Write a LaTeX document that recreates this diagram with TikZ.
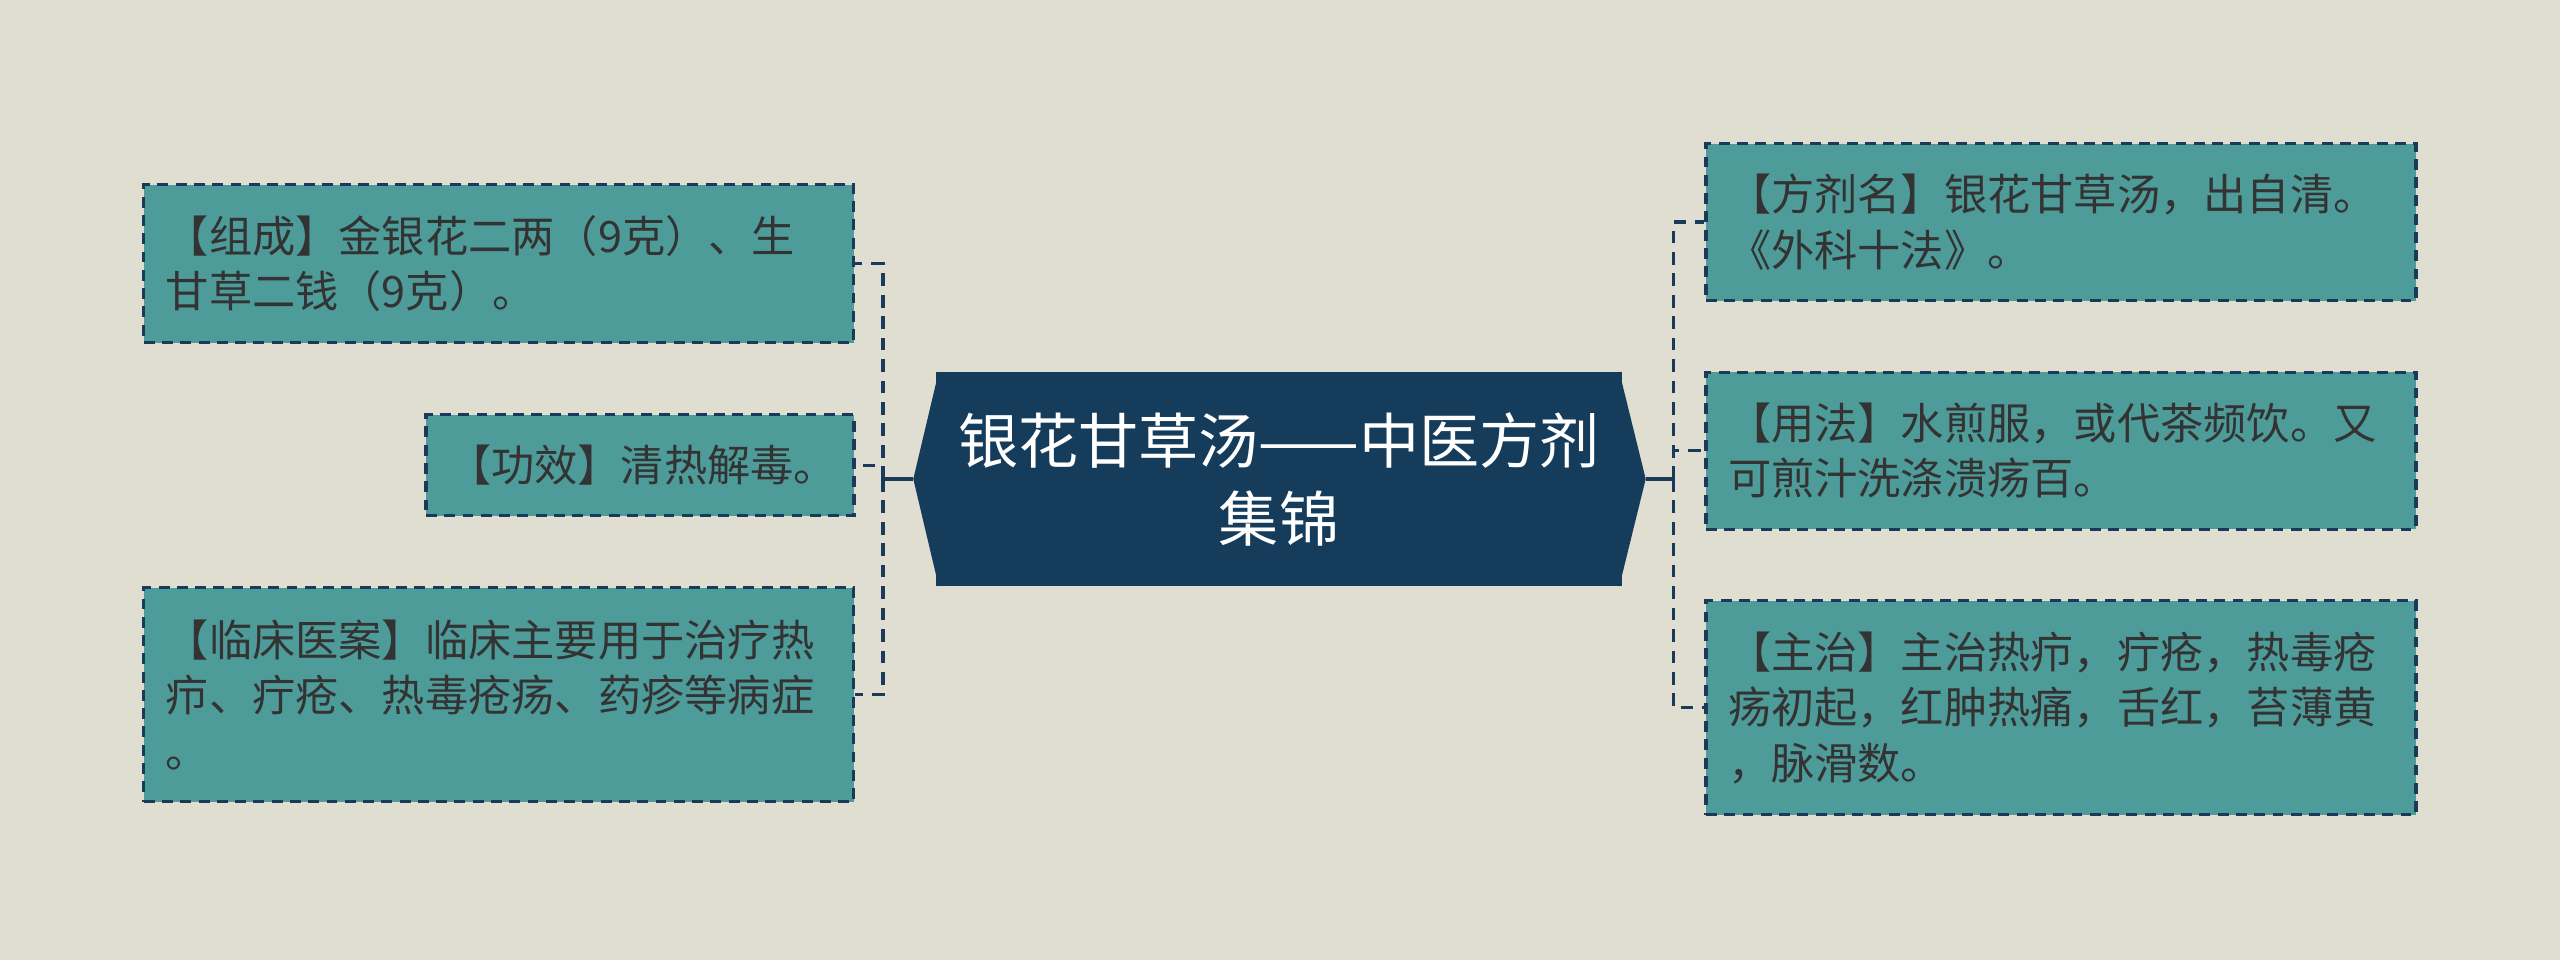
\documentclass[tikz,border=0pt]{standalone}
\usepackage{fontspec}
\newfontfamily\cjk{Noto Sans CJK SC}
\usetikzlibrary{calc}
\definecolor{bgpaper}{HTML}{DFDED0}
\definecolor{leafteal}{HTML}{4E9C9A}
\definecolor{rootnavy}{HTML}{163C5B}
\definecolor{linknavy}{HTML}{1B3A5A}
\definecolor{leaftext}{HTML}{333333}
\tikzset{
leafbox/.style  = {shape=rectangle, draw=linknavy, fill=leafteal,
                   line width=0.9pt, dash pattern=on 3.1pt off 2.1pt,
                   anchor=center, align=left,
                   inner xsep=0.22cm, inner ysep=0pt,
                   text=leaftext, font=\cjk\fontsize{12.3pt}{15.8pt}\selectfont},
wideleaf/.style = {leafbox, text width=6.66cm},
root/.style     = {shape=rectangle, fill=rootnavy,
                   minimum width=6.86cm, minimum height=2.14cm,
                   text width=6.86cm, align=center, inner sep=0pt,
                   text=white, font=\cjk\fontsize{17.1pt}{22.2pt}\selectfont},
branch/.style   = {draw=linknavy, line width=0.9pt, dash pattern=on 3.6pt off 2.5pt},
trunk/.style    = {draw=linknavy, line width=0.9pt}
}

\begin{document}
\begin{tikzpicture}
\fill[bgpaper] (0,0) rectangle (25.6,-9.6);

\node[root] (title) at (12.79,-4.79) {银花甘草汤——中医方剂\\集锦};
\coordinate (ltip) at ([xshift=-0.22cm]title.west);
\coordinate (rtip) at ([xshift=0.23cm]title.east);
\fill[rootnavy] ([xshift=1pt]title.north west) -- (ltip) -- ([xshift=1pt]title.south west) -- cycle;
\fill[rootnavy] ([xshift=-1pt]title.north east) -- (rtip) -- ([xshift=-1pt]title.south east) -- cycle;

\node[wideleaf, minimum height=1.58cm] (zucheng) at (4.988,-2.637)
    {【组成】金银花二两（9克）、生\\甘草二钱（9克）。};
\node[leafbox, text width=3.84cm, minimum height=1.01cm] (gongxiao) at (6.40,-4.653)
    {【功效】清热解毒。};
\node[wideleaf, minimum height=2.14cm] (linchuang) at (4.988,-6.947)
    {【临床医案】临床主要用于治疗热\\疖、疔疮、热毒疮疡、药疹等病症\\。};
\node[wideleaf, minimum height=1.57cm] (fangji) at (20.61,-2.22)
    {【方剂名】银花甘草汤，出自清。\\《外科十法》。};
\node[wideleaf, minimum height=1.57cm] (yongfa) at (20.61,-4.506)
    {【用法】水煎服，或代茶频饮。又\\可煎汁洗涤溃疡百。};
\node[wideleaf, minimum height=2.14cm] (zhuzhi) at (20.61,-7.077)
    {【主治】主治热疖，疔疮，热毒疮\\疡初起，红肿热痛，舌红，苔薄黄\\，脉滑数。};

\coordinate (lj) at (8.83,-4.79);
\coordinate (rj) at (16.735,-4.79);
\draw[trunk] (ltip) -- (lj);
\draw[trunk] (rtip) -- (rj);
\foreach \leaf in {zucheng, gongxiao, linchuang} {
    \draw[branch] (lj) |- (\leaf);
}
\foreach \leaf in {fangji, yongfa, zhuzhi} {
    \draw[branch] (rj) |- (\leaf);
}
\end{tikzpicture}
\end{document}
